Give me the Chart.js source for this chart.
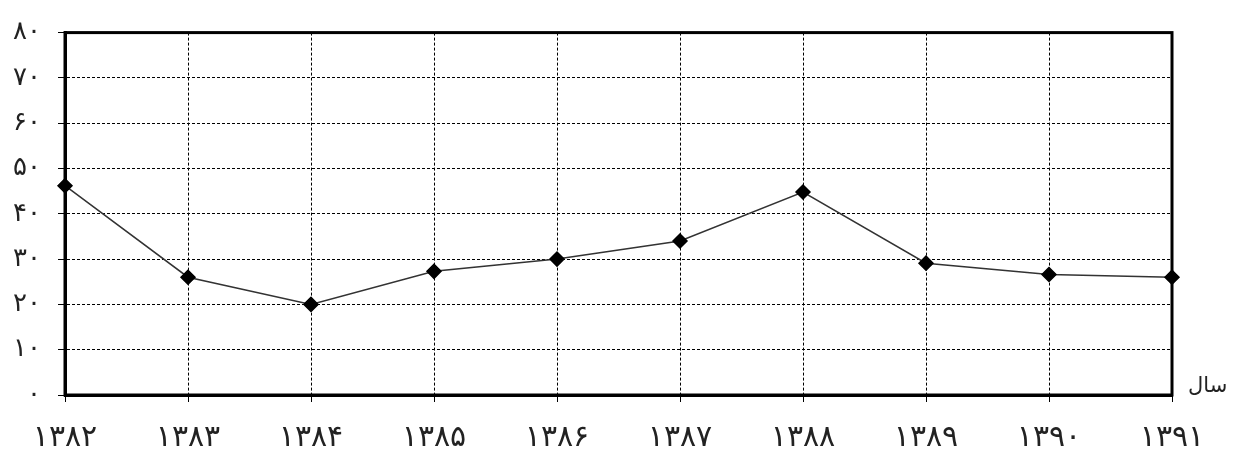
<!DOCTYPE html>
<html>
<head>
<meta charset="utf-8">
<script src="https://cdn.jsdelivr.net/npm/chart.js@4.4.0/dist/chart.umd.min.js"></script>
<style>
  body { margin: 0; background: #fff; }
  #wrap { width: 1239px; height: 455px; }
</style>
</head>
<body>
<div id="wrap"><canvas id="lineChart"></canvas></div>
<script>
// years (persian digits) and values
var years = ["۱۳۸۲", "۱۳۸۳", "۱۳۸۴", "۱۳۸۵", "۱۳۸۶", "۱۳۸۷", "۱۳۸۸", "۱۳۸۹", "۱۳۹۰", "۱۳۹۱"];
var values = [46.2, 26, 20, 27.3, 30, 34, 44.8, 29.1, 26.6, 26];
var yTicks = ["۰", "۱۰", "۲۰", "۳۰", "۴۰", "۵۰", "۶۰", "۷۰", "۸۰"];
var axisName = "سال";

// frame round the plot + the "sal" label
var framePlugin = {
  id: 'frame',
  afterDatasetsDraw: function (chart) {
    var ctx = chart.ctx;
    var a = chart.chartArea;
    ctx.save();
    ctx.strokeStyle = '#000';
    ctx.lineWidth = 3;
    ctx.strokeRect(a.left, a.top, a.right - a.left, a.bottom - a.top);
    ctx.fillStyle = '#222';
    ctx.font = '21px "DejaVu Sans"';
    ctx.textAlign = 'left';
    ctx.textBaseline = 'middle';
    ctx.fillText(axisName, a.right + 16, a.bottom - 8);
    ctx.restore();
  }
};

var ctx = document.getElementById("lineChart").getContext('2d');
var chartHandle = new Chart(ctx, {
  type: 'line',
  data: {
    labels: years,
    datasets: [{
      data: values,
      borderColor: '#333',
      borderWidth: 1.5,
      pointStyle: 'rectRot',
      pointRadius: 7,
      pointHoverRadius: 7,
      pointBackgroundColor: '#000',
      pointBorderColor: '#000',
      tension: 0
    }]
  },
  options: {
    responsive: true,
    maintainAspectRatio: false,
    animation: false,
    layout: { padding: { top: 22, right: 67, left: 0, bottom: 0 } },
    plugins: {
      legend: { display: false },
      tooltip: { enabled: false }
    },
    scales: {
      x: {
        offset: false,
        afterFit: function (scale) { scale.height = 60; },
        grid: {
          color: '#000',
          lineWidth: 1,
          tickLength: 7,
          tickColor: '#000'
        },
        border: { display: true, color: '#000', width: 3, dash: [3, 2] },
        ticks: {
          color: '#222',
          font: { family: '"DejaVu Sans"', size: 30 },
          padding: 18,
          maxRotation: 0
        }
      },
      y: {
        min: 0,
        max: 80,
        afterFit: function (scale) { scale.width = 65; },
        grid: {
          color: '#000',
          lineWidth: 1,
          tickLength: 7,
          tickColor: '#000'
        },
        border: { display: true, color: '#000', width: 3, dash: [3, 2] },
        ticks: {
          stepSize: 10,
          color: '#222',
          font: { family: '"DejaVu Sans"', size: 26 },
          padding: 17,
          callback: function (value) { return yTicks[value / 10]; }
        }
      }
    }
  },
  plugins: [framePlugin]
});
</script>
</body>
</html>
